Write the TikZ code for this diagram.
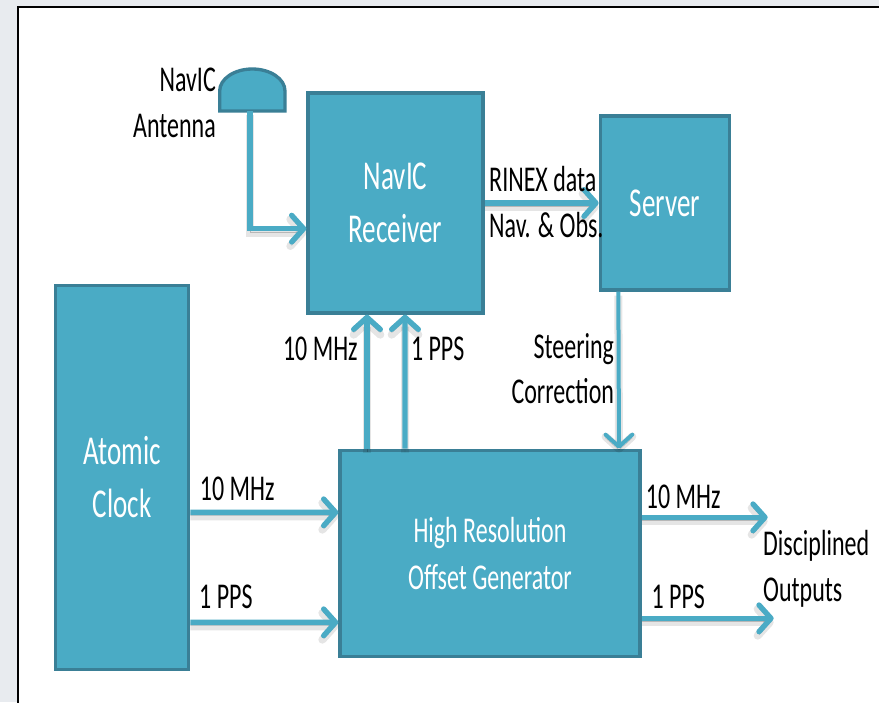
\documentclass[tikz,border=0pt]{standalone}
\usepackage{fontspec}
\setmainfont[FakeStretch=0.66]{Carlito}
\usepackage{xcolor}
\definecolor{boxfill}{RGB}{74,171,197}
\definecolor{boxframe}{RGB}{58,127,150}
\definecolor{pagebg}{RGB}{232,235,239}
\usetikzlibrary{arrows.meta,positioning,calc}
\tikzset{
  fc_box/.style={rectangle,
    draw=boxframe,fill=boxfill,line width=0.1cm,
    text=white,align=center,
    font=\fontsize{35}{45}\selectfont,
    inner sep=0pt},
  fc_lbl/.style={align=left,text=black,
    font=\fontsize{31}{39}\selectfont,
    inner sep=0pt},
  arr/.style={-{Straight Barb[length=0.36cm,width=0.8cm,round]},
    line width=0.16cm,draw=boxfill,
    preaction={draw=black,opacity=0.1,line width=0.24cm,transform canvas={yshift=-0.12cm}},
    preaction={draw=black,opacity=0.2,transform canvas={yshift=-0.1cm}}},
}
\begin{document}
\begin{tikzpicture}
  \useasboundingbox (0,0) rectangle (26.37,-21.06);
  % page and frame
  \fill[pagebg] (0,0) rectangle (26.37,-21.06);
  \draw[fill=white,line width=0.07cm] (26.6,-0.21) -- (0.54,-0.21) -- (0.54,-21.3) -- (26.6,-21.3) -- cycle;

  \node (rx) [fc_box,minimum width=5.25cm,minimum height=6.6cm] at (11.865,-6.09)
    {NavIC\\Receiver};
  \node (srv) [fc_box,minimum width=3.87cm,minimum height=5.22cm, right=3.42cm of rx]
    {Server};
  \node (gen) [fc_box,minimum width=9cm,minimum height=6.18cm,
    font=\fontsize{31}{40}\selectfont,
    below right=4.02cm and 0.96cm of rx.south west]
    {High Resolution\\Offset Generator};
  \node (clk) [fc_box,minimum width=3.99cm,minimum height=11.52cm,
    left=4.44cm of gen.south west,anchor=south east,yshift=-0.39cm]
    {Atomic\\Clock};

  % antenna dish
  \coordinate (ant) at (7.57,-3.33);
  \draw[fc_box] ($(ant)+(-0.98,0)$) -- ++(0,0.6)
    arc[start angle=180,end angle=0,x radius=0.98cm,y radius=0.66cm] -- ++(0,-0.6) -- cycle;
  \node (antl) [fc_lbl,align=right,anchor=north east] at (6.48,-2.04) {NavIC\\Antenna};

  \draw[arr] ([xshift=-0.07cm]ant) |- ([yshift=-0.77cm]rx.west);
  \draw[arr] (rx) -- (srv);
  \node (rinex) [fc_lbl,anchor=west] at (14.67,-5.37) {RINEX data};
  \node (navobs) [fc_lbl,anchor=west] at (14.67,-6.75) {Nav. \& Obs.};

  % up to the receiver
  \draw[arr] ([xshift=-3.69cm]gen.north) -- node[fc_lbl,left=0.2cm,pos=0.745]{10 MHz} ([xshift=-0.855cm]rx.south);
  \draw[arr] ([xshift=-2.55cm]gen.north) -- node[fc_lbl,right=0.1cm,pos=0.745]{1 PPS} ([xshift=0.285cm]rx.south);
  % steering
  \draw[arr,line width=0.12cm] ([xshift=-1.395cm]srv.south) --
    node[fc_lbl,align=right,left=0.08cm,pos=0.49]{Steering\\Correction} ([xshift=3.87cm]gen.north);

  % from the clock
  \draw[arr] ([yshift=-1.05cm]clk.east) -- node[fc_lbl,above=0.27cm,pos=0.317]{10 MHz} ([yshift=1.23cm]gen.west);
  \draw[arr] ([yshift=-4.35cm]clk.east) -- node[fc_lbl,above=0.34cm,pos=0.24]{1 PPS} ([yshift=-2.07cm]gen.west);

  % outputs
  \coordinate (out1) at ([xshift=3.78cm,yshift=1.08cm]gen.east);
  \coordinate (out2) at ([xshift=3.96cm,yshift=-1.95cm]gen.east);
  \draw[arr] ([yshift=1.08cm]gen.east) -- node[fc_lbl,above=0.18cm,pos=0.33]{10 MHz} (out1);
  \draw[arr] ([yshift=-1.95cm]gen.east) -- node[fc_lbl,above=0.22cm,pos=0.277]{1 PPS} (out2);
  \node (disc) [fc_lbl,anchor=north west] at (22.89,-15.9) {Disciplined\\Outputs};
\end{tikzpicture}
\end{document}
